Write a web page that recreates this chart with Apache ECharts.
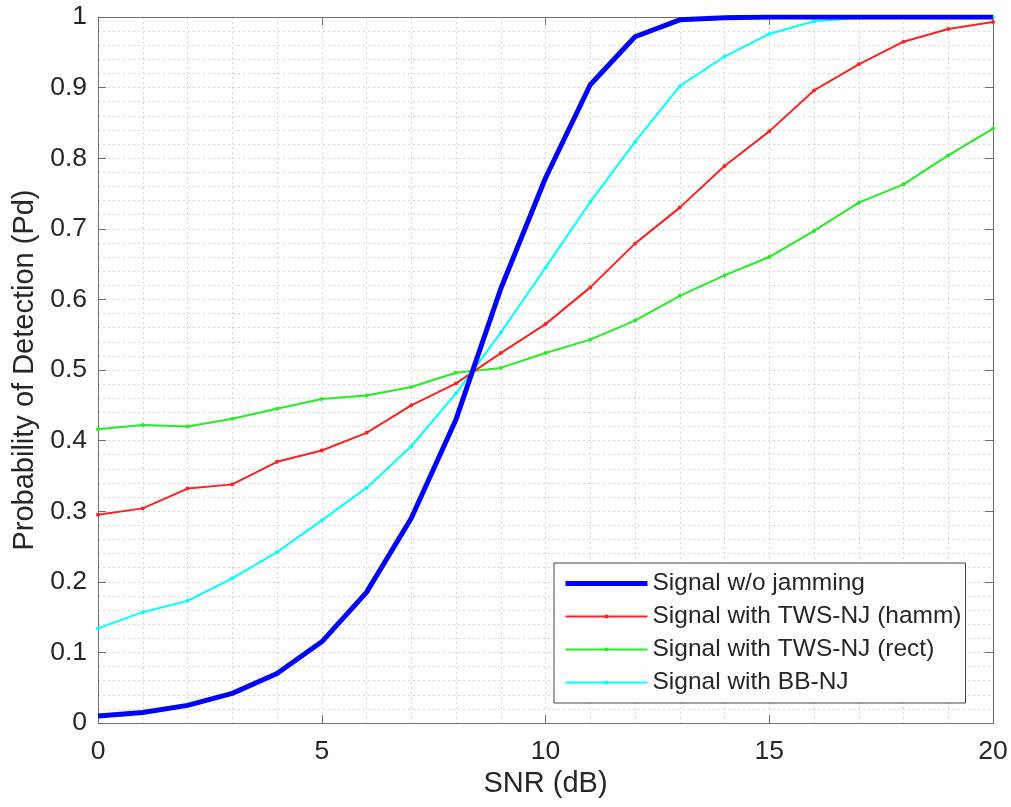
<!DOCTYPE html>
<html>
<head>
<meta charset="utf-8">
<script src="https://cdn.jsdelivr.net/npm/echarts@6/dist/echarts.min.js"></script>
<style>html,body{margin:0;padding:0;background:#fff;}#c{width:1011px;height:807px;}</style>
</head>
<body>
<div id="c"></div>
<script>
const snr = [0,1,2,3,4,5,6,7,8,9,10,11,12,13,14,15,16,17,18,19,20];
const noJam = [0.010,0.015,0.025,0.042,0.070,0.115,0.185,0.290,0.430,0.615,0.772,0.904,0.972,0.996,0.999,1.000,1.000,1.000,1.000,1.000,1.000];
const twsHamm = [0.295,0.304,0.332,0.338,0.370,0.386,0.411,0.450,0.481,0.524,0.565,0.617,0.679,0.730,0.789,0.838,0.896,0.933,0.965,0.983,0.993];
const twsRect = [0.416,0.422,0.420,0.431,0.445,0.459,0.464,0.476,0.496,0.503,0.524,0.543,0.570,0.605,0.634,0.660,0.697,0.737,0.763,0.804,0.842];
const bbNj = [0.134,0.157,0.173,0.205,0.242,0.287,0.333,0.392,0.467,0.553,0.645,0.738,0.823,0.902,0.944,0.976,0.994,0.999,1.000,1.000,1.000];
const seriesNames = ['Signal w/o jamming','Signal with TWS-NJ (hamm)','Signal with TWS-NJ (rect)','Signal with BB-NJ'];
const xName = 'SNR (dB)';
const yName = 'Probability of Detection (Pd)';

const pair = arr => snr.map((x,i)=>[x,arr[i]]);
const font = 'Liberation Sans, Arial, sans-serif';
const txt = '#262626';
const axisCol = '#6e6e6e';
const gridLine = {show:true, lineStyle:{color:'#d4d4d4', type:[2,3], width:1}};

const chart = echarts.init(document.getElementById('c'));
chart.setOption({
  animation:false,
  backgroundColor:'#fff',
  grid:{left:98, right:18, top:17, bottom:84},
  legend:{
    orient:'vertical', left:554, top:563,
    itemWidth:82, itemHeight:5, itemGap:8,
    padding:[8,4,8,9],
    borderColor:'#444', borderWidth:1, backgroundColor:'#fff',
    textStyle:{fontFamily:font, fontSize:24.5, color:txt},
    data:[
      {name:seriesNames[0], itemStyle:{opacity:0}, lineStyle:{width:5}},
      {name:seriesNames[1]},
      {name:seriesNames[2]},
      {name:seriesNames[3]}
    ]
  },
  xAxis:[{
    type:'value', min:0, max:20, interval:5,
    name:xName, nameLocation:'middle', nameGap:44,
    nameTextStyle:{fontFamily:font, fontSize:29, color:txt},
    axisLine:{show:true, lineStyle:{color:axisCol, width:1}},
    axisTick:{show:true, inside:true, length:8, lineStyle:{color:axisCol}},
    axisLabel:{fontFamily:font, fontSize:26.5, color:txt, margin:15},
    splitLine:gridLine,
    minorTick:{show:false, splitNumber:5},
    minorSplitLine:gridLine
  },{
    type:'value', min:0, max:20, interval:5, position:'top',
    axisLine:{show:true, onZero:false, lineStyle:{color:axisCol, width:1}},
    axisTick:{show:true, inside:true, length:8, lineStyle:{color:axisCol}},
    axisLabel:{show:false}, splitLine:{show:false}
  }],
  yAxis:[{
    type:'value', min:0, max:1, interval:0.1,
    name:yName, nameLocation:'middle', nameGap:59,
    nameTextStyle:{fontFamily:font, fontSize:29, color:txt},
    axisLine:{show:true, lineStyle:{color:axisCol, width:1}},
    axisTick:{show:true, inside:true, length:8, lineStyle:{color:axisCol}},
    axisLabel:{fontFamily:font, fontSize:26.5, color:txt, margin:11,
      formatter:v=>String(+v.toFixed(1))},
    splitLine:gridLine,
    minorTick:{show:false, splitNumber:5},
    minorSplitLine:gridLine
  },{
    type:'value', min:0, max:1, interval:0.1, position:'right',
    axisLine:{show:true, onZero:false, lineStyle:{color:axisCol, width:1}},
    axisTick:{show:true, inside:true, length:8, lineStyle:{color:axisCol}},
    axisLabel:{show:false}, splitLine:{show:false}
  }],
  series:[
    {name:seriesNames[0], type:'line', data:pair(noJam), symbol:'none', z:5,
      lineStyle:{color:'#0000ff', width:5}, itemStyle:{color:'#0000ff'}},
    {name:seriesNames[1], type:'line', data:pair(twsHamm), symbol:'circle', symbolSize:4, z:4,
      lineStyle:{color:'#ff2020', width:2}, itemStyle:{color:'#ff2020'}},
    {name:seriesNames[2], type:'line', data:pair(twsRect), symbol:'circle', symbolSize:4, z:3,
      lineStyle:{color:'#22ee22', width:2}, itemStyle:{color:'#22ee22'}},
    {name:seriesNames[3], type:'line', data:pair(bbNj), symbol:'circle', symbolSize:4, z:3,
      lineStyle:{color:'#00ffff', width:2}, itemStyle:{color:'#00ffff'}}
  ]
});
</script>
</body>
</html>
